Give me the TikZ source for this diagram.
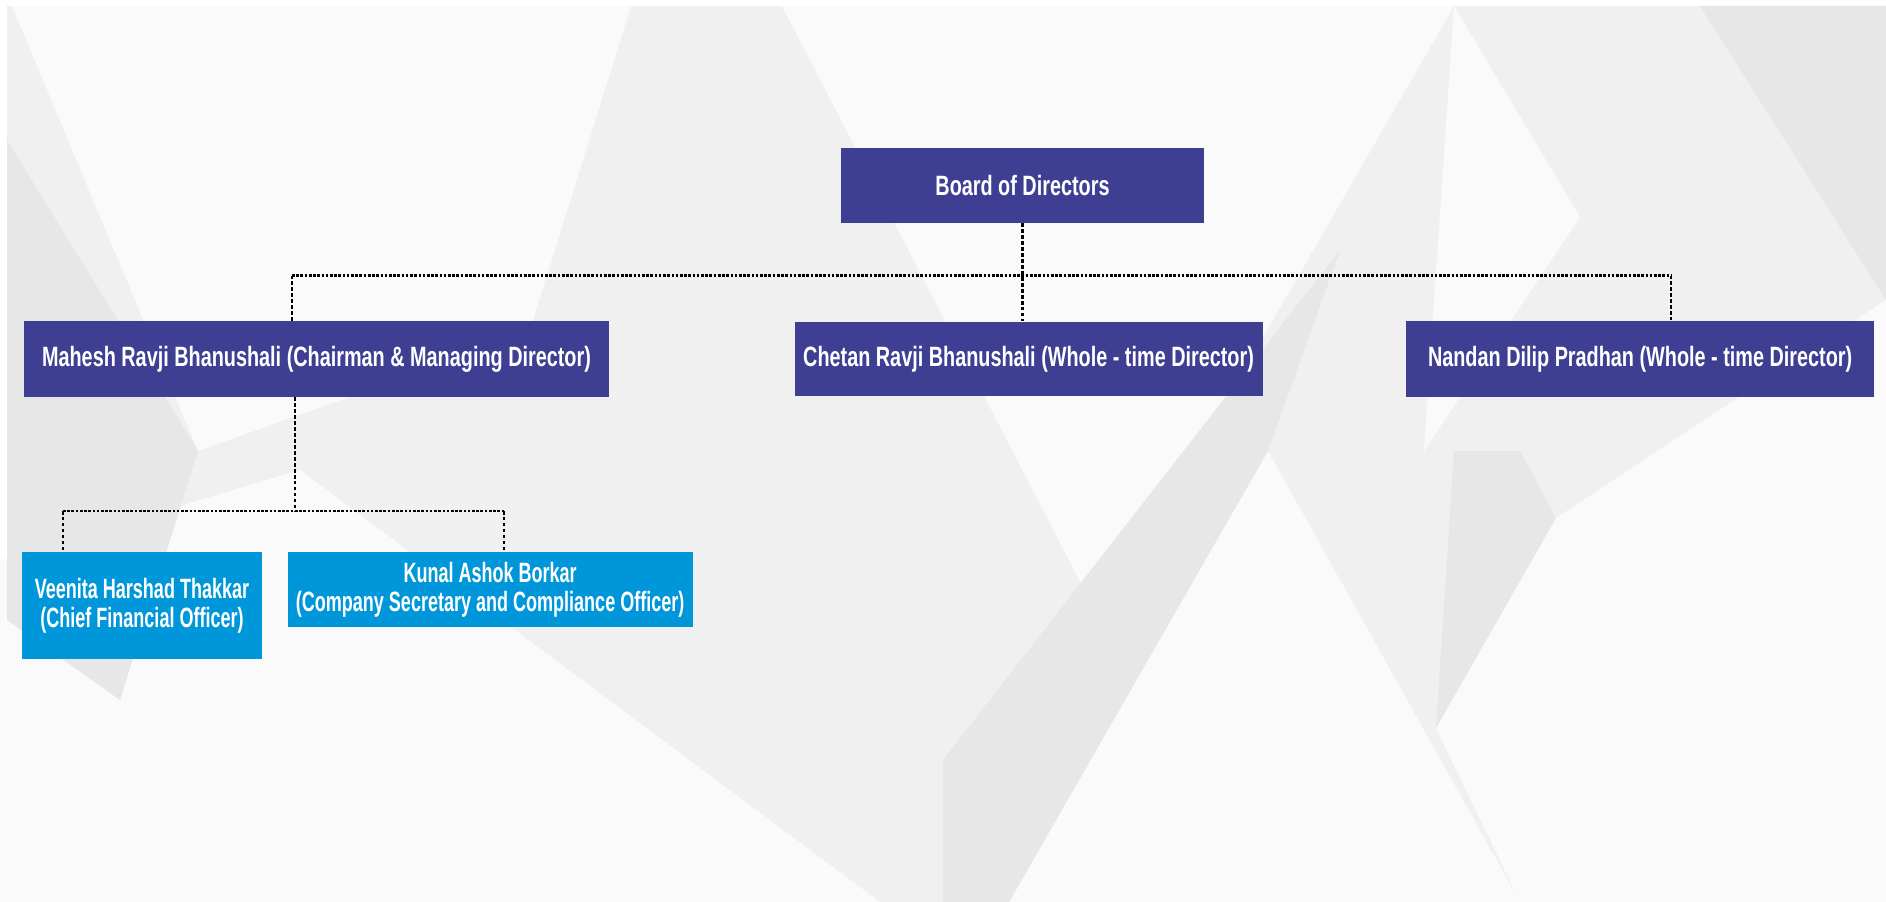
\documentclass[tikz,border=0pt]{standalone}
\usepackage{fontspec}
\newfontfamily\orgfont{Liberation Sans}[FakeStretch=0.71]
\newfontfamily\stafffont{Liberation Sans}[FakeStretch=0.645]
\usetikzlibrary{positioning}
\definecolor{boardblue}{HTML}{3E3F92}
\definecolor{staffblue}{HTML}{0097DA}
\definecolor{bggray}{HTML}{F0F0F0}
\definecolor{bglight}{HTML}{FAFAFA}
\definecolor{bgshade}{HTML}{E7E7E7}

\begin{document}
\begin{tikzpicture}[
    x=0.02cm, y=-0.02cm,
    box/.style={rectangle, fill=boardblue, text=white, inner sep=0pt, minimum height=1.5cm, align=center,
        font=\orgfont\bfseries\fontsize{15.9}{16.5}\selectfont},
    staffbox/.style={box, fill=staffblue, font=\stafffont\bfseries\fontsize{15.9}{16.5}\selectfont},
    hlink/.style={line width=1.7pt, dash pattern=on 1.5pt off 0.9pt},
    vlink/.style={line width=1.3pt, dash pattern=on 2pt off 1.4pt},
    light/.style={fill=bglight, draw=none},
    shadow/.style={fill=bgshade, draw=none}
]
    % background
    \useasboundingbox (0,0) rectangle (1886,902);
    \fill[white] (0,0) rectangle (1886,902);
    \fill[bggray] (7,6) rectangle (1886,902);
    \fill[light] (12,6) -- (631,6) -- (529,333) -- (198,451) -- cycle;
    \fill[light] (782,6) -- (1454,6) -- (1100,620) -- cycle;
    \fill[light] (1454,6) -- (1580,217) -- (1424,451) -- cycle;
    \fill[light] (1268,451) -- (1009,902) -- (1520,902) -- cycle;
    \fill[light] (1556,518) -- (1886,300) -- (1886,902) -- (1520,902) -- (1436,728) -- cycle;
    \fill[light] (0,560) -- (300,470) -- (880,902) -- (0,902) -- cycle;
    \fill[shadow] (1340,250) -- (1268,451) -- (1009,902) -- (943,902) -- (943,760) -- cycle;
    \fill[shadow] (1454,451) -- (1520,451) -- (1556,518) -- (1436,728) -- cycle;
    \fill[shadow] (7,140) -- (198,451) -- (120,700) -- (7,620) -- cycle;
    \fill[shadow] (1700,6) -- (1886,6) -- (1886,300) -- cycle;

    % org chart
    \node[box, minimum width=7.26cm] (board) at (1022.5,185.5) {Board of Directors};
    \node[box, minimum width=11.7cm, minimum height=1.52cm] (mahesh) at (316.5,359)
        {Mahesh Ravji Bhanushali (Chairman \& Managing Director)};
    \node[box, minimum width=9.36cm, right=3.7cm of mahesh] (chetan)
        {Chetan Ravji Bhanushali (Whole - time Director)};
    \node[box, minimum width=9.36cm, minimum height=1.54cm, right=2.86cm of chetan] (nandan)
        {Nandan Dilip Pradhan (Whole - time Director)};
    \node[staffbox, minimum width=4.8cm, minimum height=2.14cm] (veenita) at (142,605.5)
        {Veenita Harshad Thakkar\\(Chief Financial Officer)};
    \node[staffbox, minimum width=8.1cm, right=0.5cm of veenita.north east, anchor=north west] (kunal)
        {Kunal Ashok Borkar\\(Company Secretary and Compliance Officer)};

    \coordinate (busL) at (292,275.5);
    \coordinate (busR) at (1671,275.5);
    \coordinate (subC) at (295,511);
    \coordinate (subL) at (63,511);
    \coordinate (subR) at (504,511);

    \draw[vlink] (board.south) -- (board.south |- chetan.north);
    \draw[hlink] (busL) -- (busR);
    \draw[vlink] (busL) -- (busL |- mahesh.north);
    \draw[vlink] (busR) -- (busR |- nandan.north);
    \draw[vlink] (subC |- mahesh.south) -- (subC);
    \draw[hlink] (subL) -- (subR);
    \draw[vlink] (subL) -- (subL |- veenita.north);
    \draw[vlink] (subR) -- (subR |- kunal.north);
\end{tikzpicture}
\end{document}
